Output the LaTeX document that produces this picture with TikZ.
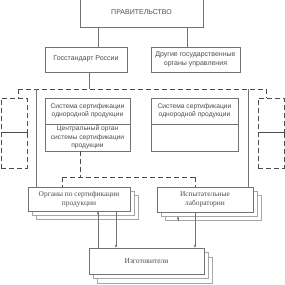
\documentclass[tikz,border=0pt]{standalone}
\usepackage{fontspec}
\setmainfont{Liberation Serif}
\newfontfamily\sansf{Liberation Sans}
\usetikzlibrary{arrows.meta}
\begin{document}
\begin{tikzpicture}[x=1pt,y=-1pt,
  ln/.style={draw=black!55,line width=0.35pt},
  dsh/.style={draw=black!70,line width=0.45pt,dash pattern=on 5pt off 3pt},
  box/.style={ln,align=center,inner sep=0pt,text=black!70},
  ubox/.style={box,font=\sansf\fontsize{7}{8.7}\selectfont},
  ibox/.style={box,font=\sansf\fontsize{6.7}{8.3}\selectfont},
  lbox/.style={box,fill=white,font=\fontsize{7.4}{9.2}\selectfont},
  shad/.style={draw=black!35,line width=0.35pt,fill=white,inner sep=0pt},
  arr/.style={ln,-{Latex[length=3pt,width=2.6pt]}}]
\useasboundingbox (0,0) rectangle (285,285);

% top level
\node[ubox,minimum width=123pt,minimum height=29pt] (gov) at (141.5,12.5) {ПРАВИТЕЛЬСТВО};
\node[ubox,minimum width=82pt,minimum height=25pt] (gost) at (86,59.5) {\raisebox{3pt}{Госстандарт России}};
\node[ubox,minimum width=89pt,minimum height=25pt] (other) at (195.5,59.5) {Другие государственные\\органы управления};
\draw[ln] (98,0 |- gov.south) -- (98,0 |- gost.north);
\draw[ln] (187,0 |- gov.south) -- (187,0 |- other.north);

% dashed frame line
\coordinate (dl) at (18,89);
\coordinate (dr) at (266,89);
\draw[ln] (89,0 |- gost.south) -- (89,89);
\draw[dsh] (dl) -- (dr);

% side brackets
\node[dsh,inner sep=0pt,minimum width=26pt,minimum height=34pt] (bl1) at (14,115) {};
\node[dsh,inner sep=0pt,minimum width=26pt,minimum height=36pt] (bl2) at (14,150) {};
\node[dsh,inner sep=0pt,minimum width=26pt,minimum height=34pt] (br1) at (271,115) {};
\node[dsh,inner sep=0pt,minimum width=26pt,minimum height=36pt] (br2) at (271,150) {};
\draw[dsh] (dl) -- (dl |- bl1.north);
\draw[dsh] (dr) -- (dr |- br1.north);

% inner boxes
\node[ibox,minimum width=85pt,minimum height=26pt] (sysL) at (87.5,111) {Система сертификации\\однородной продукции};
\node[ibox,minimum width=85pt,minimum height=27pt] (cenL) at (87.5,137.5) {Центральный орган\\системы сертификации\\продукции};
\node[ibox,minimum width=87pt,minimum height=26pt] (sysR) at (194.5,111) {Система сертификации\\однородной продукции};
\node[ibox,minimum width=87pt,minimum height=27pt] (empR) at (194.5,137.5) {};

% bottom stacked boxes
\node[shad,minimum width=102pt,minimum height=24pt] (orgS2) at (87,207) {};
\node[shad,minimum width=102pt,minimum height=24pt] (orgS1) at (83,203) {};
\node[lbox,minimum width=102pt,minimum height=24pt] (org) at (79,199) {Органы по сертификации\\продукции};
\node[shad,minimum width=96pt,minimum height=25pt] (labS2) at (213,207.5) {};
\node[shad,minimum width=96pt,minimum height=25pt] (labS1) at (209,203.5) {};
\node[lbox,minimum width=96pt,minimum height=25pt] (lab) at (205,199.5) {Испытательные\\лаборатории};
\node[shad,minimum width=115pt,minimum height=26pt] (izgS2) at (155,270) {};
\node[shad,minimum width=115pt,minimum height=26pt] (izgS1) at (150.5,265.5) {};
\node[lbox,minimum width=115pt,minimum height=26pt,font=\fontsize{7.5}{9}\selectfont] (izg) at (146.5,261) {Изготовители};

% solid verticals of frame
\draw[ln] (36,89) -- (36,0 |- org.north);
\draw[ln] (248,89) -- (248,0 |- lab.north);

% dashed link from central organ
\coordinate (dm) at (80,177);
\draw[dsh] (80,0 |- cenL.south) -- (dm);
\draw[dsh] (62,177) -- (195,177);
\draw[dsh] (62,177) -- (62,0 |- org.north);
\draw[dsh] (195,177) -- (195,0 |- lab.north);

% arrows
\draw[arr] (98,0 |- izg.north) -- (98,0 |- org.south);
\draw[arr] (116,0 |- org.south) -- (116,0 |- izg.north);
\draw[arr] (195,0 |- lab.south) -- (195,0 |- izg.north);
\coordinate (tk) at (178,221);
\draw[arr] (tk) -- (178,0 |- labS1.south);
\end{tikzpicture}
\end{document}
